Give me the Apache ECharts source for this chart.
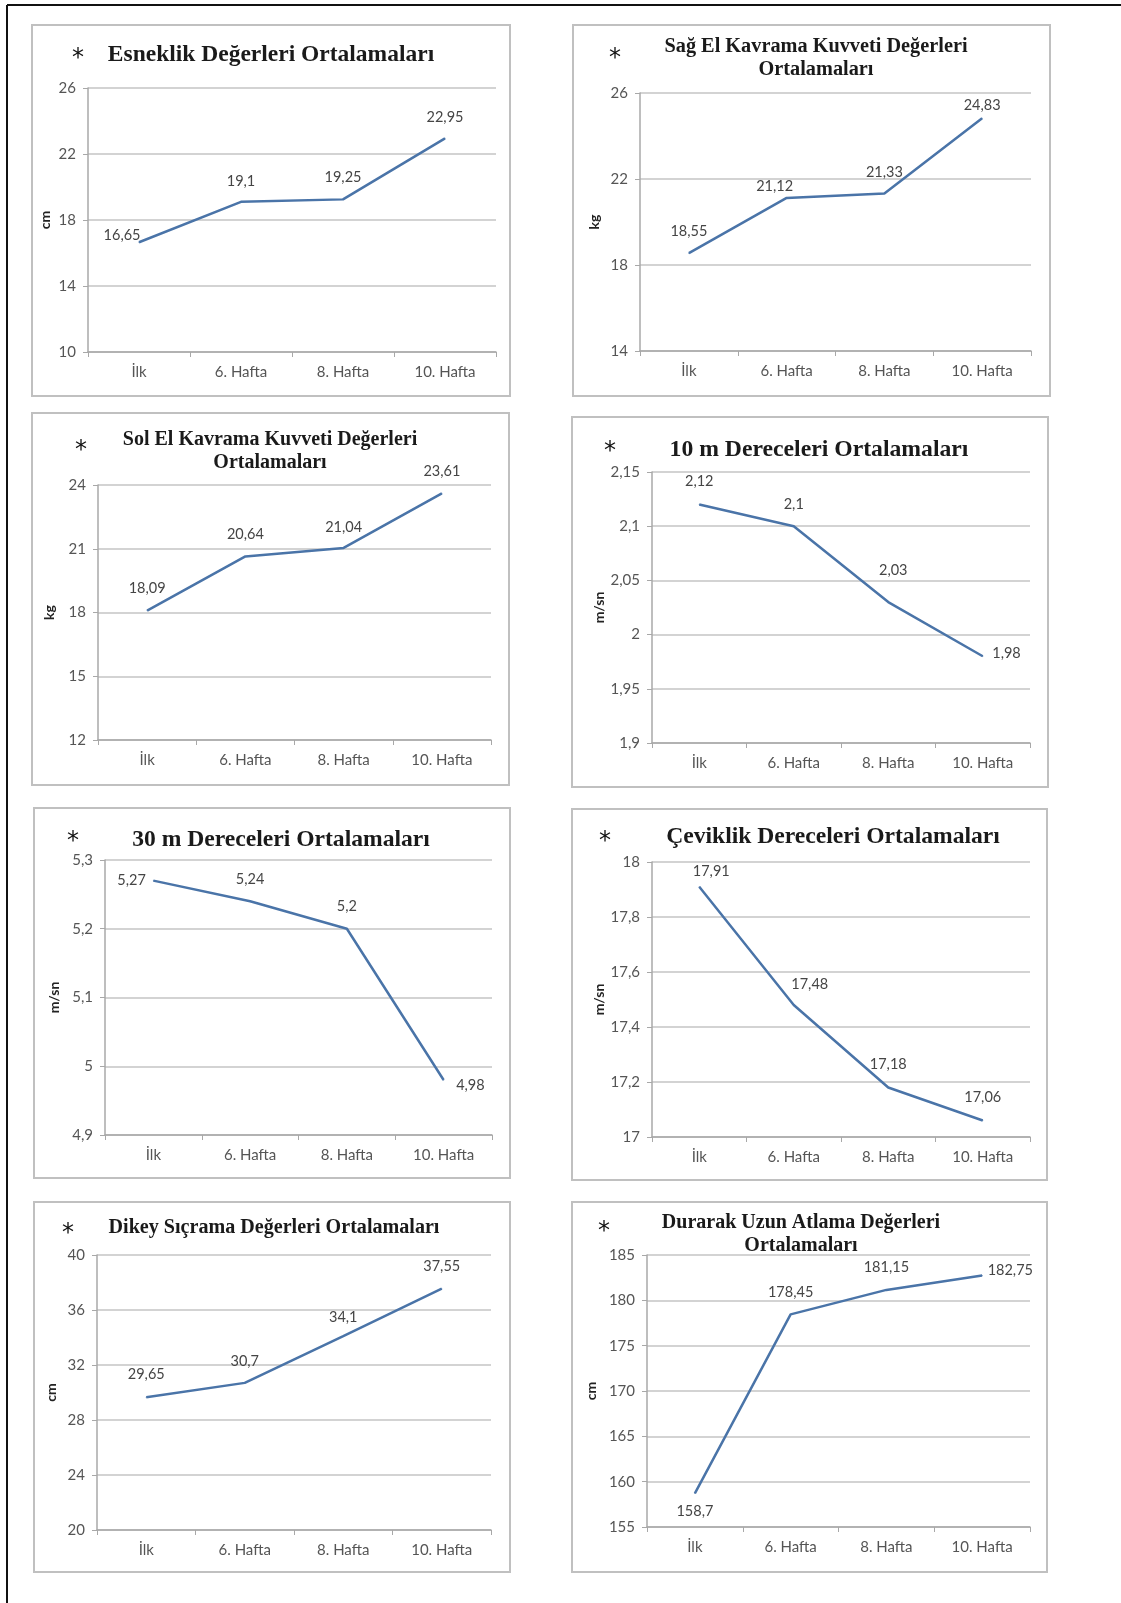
<!DOCTYPE html>
<html>
<head>
<meta charset="utf-8">
<script src="https://cdn.jsdelivr.net/npm/echarts@6/dist/echarts.min.js"></script>
<style>
  html, body { margin: 0; padding: 0; background: #fff; }
  #chart { width: 1121px; height: 1603px; }
</style>
</head>
<body>
<div id="chart"></div>
<script>
// Measurement weeks shared by every panel
const weeks = ['İlk', '6. Hafta', '8. Hafta', '10. Hafta'];

// Panel titles
const titles = [
  'Esneklik Değerleri Ortalamaları',
  'Sağ El Kavrama Kuvveti Değerleri\nOrtalamaları',
  'Sol El Kavrama Kuvveti Değerleri\nOrtalamaları',
  '10 m Dereceleri Ortalamaları',
  '30 m Dereceleri Ortalamaları',
  'Çeviklik Dereceleri Ortalamaları',
  'Dikey Sıçrama Değerleri Ortalamaları',
  'Durarak Uzun Atlama Değerleri\nOrtalamaları'
];

// Units on each value axis
const units = ['cm', 'kg', 'kg', 'm/sn', 'm/sn', 'm/sn', 'cm', 'cm'];

// Mean values per measurement week
const esneklik = [16.65, 19.1, 19.25, 22.95];
const sagEl = [18.55, 21.12, 21.33, 24.83];
const solEl = [18.09, 20.64, 21.04, 23.61];
const onMetre = [2.12, 2.1, 2.03, 1.98];
const otuzMetre = [5.27, 5.24, 5.2, 4.98];
const ceviklik = [17.91, 17.48, 17.18, 17.06];
const dikeySicrama = [29.65, 30.7, 34.1, 37.55];
const uzunAtlama = [158.7, 178.45, 181.15, 182.75];

// Value-axis tick labels
const esneklikTicks = [10, 14, 18, 22, 26];
const sagElTicks = [14, 18, 22, 26];
const solElTicks = [12, 15, 18, 21, 24];
const onMetreTicks = [1.9, 1.95, 2, 2.05, 2.1, 2.15];
const otuzMetreTicks = [4.9, 5, 5.1, 5.2, 5.3];
const ceviklikTicks = [17, 17.2, 17.4, 17.6, 17.8, 18];
const dikeySicramaTicks = [20, 24, 28, 32, 36, 40];
const uzunAtlamaTicks = [155, 160, 165, 170, 175, 180, 185];

const seriesValues = [esneklik, sagEl, solEl, onMetre, otuzMetre, ceviklik, dikeySicrama, uzunAtlama];
const axisTicks = [esneklikTicks, sagElTicks, solElTicks, onMetreTicks, otuzMetreTicks, ceviklikTicks, dikeySicramaTicks, uzunAtlamaTicks];

// Page layout: panel frame, plot area, title placement, unit gap, label placement
const layout = [
  { box: [32, 25, 478, 371], grid: [88, 88, 408, 264], title: [271, 55, 23.5], star: [78, 59], nameGap: 36,
    labels: [['left', 0, [2, -7]], ['top', 13], ['top', 14], ['top', 13]] },
  { box: [573, 25, 477, 371], grid: [640, 93, 391, 258], title: [816, 58, 20.3], star: [615, 59], nameGap: 39,
    labels: [['top', 14], ['top', 4, [-12, 0]], ['top', 13], ['top', 5]] },
  { box: [32, 413, 477, 372], grid: [98, 485, 393, 255], title: [270, 451, 20], star: [81, 451], nameGap: 42,
    labels: [['top', 14], ['top', 14], ['top', 13], ['top', 14]] },
  { box: [572, 417, 476, 370], grid: [652, 472, 378, 271], title: [819, 450, 23.7], star: [610, 452], nameGap: 46,
    labels: [['top', 15], ['top', 14], ['top', 24, [5, 0]], ['right', 9, [0, -3]]] },
  { box: [34, 808, 476, 370], grid: [105, 860, 387, 275], title: [281, 840, 23.6], star: [73, 842], nameGap: 44,
    labels: [['left', 7], ['top', 14], ['top', 14], ['right', 12, [0, 5]]] },
  { box: [572, 809, 475, 371], grid: [652, 862, 378, 275], title: [833, 837, 23.6], star: [605, 842], nameGap: 46,
    labels: [['top', 7, [12, 0]], ['top', 13, [16, 0]], ['top', 15], ['top', 15]] },
  { box: [34, 1202, 476, 370], grid: [97, 1255, 394, 275], title: [274, 1228, 20.1], star: [68, 1234], nameGap: 39,
    labels: [['top', 15], ['top', 14], ['top', 11], ['top', 14]] },
  { box: [572, 1202, 475, 370], grid: [647, 1255, 383, 272], title: [801, 1234, 20], star: [604, 1232], nameGap: 49,
    labels: [['bottom', 10], ['top', 14], ['top', 15], ['right', 5, [0, -5]]] }
];

const comma = v => String(+v.toFixed(4)).replace('.', ',');

const LINE_BLUE = '#4a74a8';
const GRID_GRAY = '#c4c4c4';
const AXIS_GRAY = '#a8a8a8';
const LABEL_GRAY = '#555555';

const grids = [], xAxes = [], yAxes = [], series = [], graphics = [];

// Outer frame lines on top and left
graphics.push({ type: 'line', shape: { x1: 7, y1: 5, x2: 1121, y2: 5 }, style: { stroke: '#111', lineWidth: 2 }, silent: true });
graphics.push({ type: 'line', shape: { x1: 7, y1: 5, x2: 7, y2: 1603 }, style: { stroke: '#111', lineWidth: 2 }, silent: true });

layout.forEach((L, i) => {
  const ticks = axisTicks[i];
  const values = seriesValues[i];

  graphics.push({
    type: 'rect', z: -1,
    shape: { x: L.box[0], y: L.box[1], width: L.box[2], height: L.box[3] },
    style: { fill: '#fff', stroke: '#c0c0c0', lineWidth: 2 }, silent: true
  });
  graphics.push({
    type: 'text', x: L.title[0], y: L.title[1],
    style: {
      text: titles[i], fill: '#1a1a1a', textAlign: 'center', textVerticalAlign: 'middle',
      align: 'center', verticalAlign: 'middle',
      fontFamily: 'Liberation Serif', fontWeight: 'bold', fontSize: L.title[2], lineHeight: 23
    }, silent: true
  });
  graphics.push({
    type: 'text', x: L.star[0], y: L.star[1],
    style: {
      text: '*', fill: '#111', textAlign: 'center', textVerticalAlign: 'middle',
      align: 'center', verticalAlign: 'middle',
      fontFamily: 'DejaVu Sans', fontSize: 24
    }, silent: true
  });

  grids.push({ left: L.grid[0], top: L.grid[1], width: L.grid[2], height: L.grid[3], containLabel: false });

  xAxes.push({
    type: 'category', gridIndex: i, data: weeks, boundaryGap: true,
    axisLine: { lineStyle: { color: AXIS_GRAY, width: 1.5 } },
    axisTick: { show: true, length: 5, lineStyle: { color: AXIS_GRAY } },
    axisLabel: { color: LABEL_GRAY, fontFamily: 'Lato', fontSize: 15, margin: 13 },
    splitLine: { show: false }
  });

  yAxes.push({
    type: 'value', gridIndex: i,
    min: ticks[0], max: ticks[ticks.length - 1], interval: +(ticks[1] - ticks[0]).toFixed(4),
    name: units[i], nameLocation: 'middle', nameRotate: 90, nameGap: L.nameGap,
    nameTextStyle: { color: '#222', fontFamily: 'Lato', fontWeight: 'bold', fontSize: 14 },
    axisLine: { show: true, lineStyle: { color: AXIS_GRAY, width: 1.5 } },
    axisTick: { show: true, length: 5, lineStyle: { color: AXIS_GRAY } },
    axisLabel: { color: LABEL_GRAY, fontFamily: 'Lato', fontSize: 15, margin: 12, formatter: comma },
    splitLine: { show: true, lineStyle: { color: GRID_GRAY, width: 1.5 } }
  });

  series.push({
    type: 'line', xAxisIndex: i, yAxisIndex: i,
    symbol: 'circle', symbolSize: 1, showSymbol: true, animation: false,
    itemStyle: { color: LINE_BLUE },
    lineStyle: { color: LINE_BLUE, width: 2.5 },
    data: values.map((v, k) => {
      const p = L.labels[k];
      return {
        value: v,
        label: { show: true, position: p[0], distance: p[1], offset: p[2] || [0, 0] }
      };
    }),
    label: {
      show: true, color: '#454545', fontFamily: 'Lato', fontSize: 14.5,
      formatter: d => comma(d.value)
    }
  });
});

const chart = echarts.init(document.getElementById('chart'), null, { renderer: 'canvas' });
chart.setOption({
  backgroundColor: '#fff',
  animation: false,
  grid: grids,
  xAxis: xAxes,
  yAxis: yAxes,
  series: series,
  graphic: { elements: graphics }
});
</script>
</body>
</html>
